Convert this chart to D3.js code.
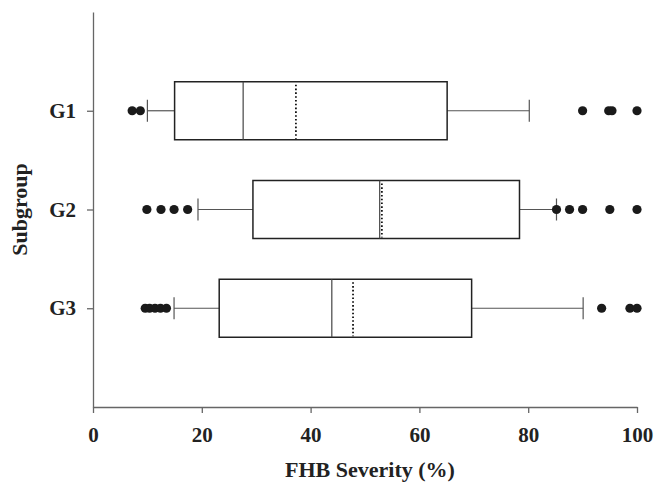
<!DOCTYPE html>
<html>
<head>
<meta charset="utf-8">
<script src="https://cdn.jsdelivr.net/npm/d3@7"></script>
<style>
  body { margin: 0; background: #fff; }
  text { font-family: "Liberation Serif", "DejaVu Serif", serif; font-weight: bold; fill: #222; }
</style>
</head>
<body>
<svg id="chart" width="667" height="484"></svg>
<script>
// data
const groups = ['G1', 'G2', 'G3']
const whiskerLow = [10.0, 19.3, 14.9]
const q1 = [15.0, 29.4, 23.2]
const median = [27.6, 52.7, 43.9]
const mean = [37.3, 53.1, 47.8]
const q3 = [65.1, 78.4, 69.6]
const whiskerHigh = [80.2, 85.2, 90.1]
const outliers = [
    [7.2, 8.7, 90.0, 94.8, 95.4, 100],
    [9.9, 12.5, 14.9, 17.4, 85.2, 87.6, 90.0, 95.0, 100],
    [9.6, 10.4, 11.4, 12.4, 13.5, 93.5, 98.7, 100]
]
const xTicks = [0, 20, 40, 60, 80, 100]

const svg = d3.select('#chart')
const plotLeft = 93, plotRight = 637, plotTop = 12, plotBottom = 407

const x = d3.scaleLinear().domain([0, 100]).range([plotLeft, plotRight])
// category positions 1..3 on a 0..4 scale
const y = d3.scaleLinear().domain([0, 4]).range([plotTop, plotBottom])
const boxH = 58

// axes
const xAxis = svg.append('g')
    .attr('transform', 'translate(0,' + plotBottom + ')')
    .call(d3.axisBottom(x).tickValues(xTicks).tickSize(6).tickPadding(14).tickSizeOuter(0))
xAxis.select('.domain').attr('stroke', '#666').attr('stroke-width', 1.3)
xAxis.selectAll('.tick line').attr('stroke', '#666').attr('stroke-width', 1.3)
xAxis.selectAll('text').style('font-size', '21px').attr('font-family', null)

const yAxis = svg.append('g')
    .attr('transform', 'translate(' + plotLeft + ',0)')
    .call(d3.axisLeft(y).tickValues([1, 2, 3]).tickFormat((d) => groups[d - 1])
        .tickSize(6).tickPadding(11).tickSizeOuter(0))
yAxis.select('.domain').attr('stroke', '#666').attr('stroke-width', 1.3)
yAxis.selectAll('.tick line').attr('stroke', '#666').attr('stroke-width', 1.3)
yAxis.selectAll('text').style('font-size', '21px').attr('font-family', null)

// boxes
const box = svg.append('g').selectAll('g')
    .data(groups)
    .enter()
    .append('g')
    .attr('transform', (d, i) => 'translate(0,' + y(i + 1) + ')')

box.append('line')
    .attr('x1', (d, i) => x(whiskerLow[i])).attr('x2', (d, i) => x(q1[i]))
    .attr('stroke', '#555').attr('stroke-width', 1.2)
box.append('line')
    .attr('x1', (d, i) => x(q3[i])).attr('x2', (d, i) => x(whiskerHigh[i]))
    .attr('stroke', '#555').attr('stroke-width', 1.2)
box.append('line')
    .attr('x1', (d, i) => x(whiskerLow[i])).attr('x2', (d, i) => x(whiskerLow[i]))
    .attr('y1', -11).attr('y2', 11)
    .attr('stroke', '#555').attr('stroke-width', 1.2)
box.append('line')
    .attr('x1', (d, i) => x(whiskerHigh[i])).attr('x2', (d, i) => x(whiskerHigh[i]))
    .attr('y1', -11).attr('y2', 11)
    .attr('stroke', '#555').attr('stroke-width', 1.2)

box.append('rect')
    .attr('x', (d, i) => x(q1[i]))
    .attr('y', -boxH / 2)
    .attr('width', (d, i) => x(q3[i]) - x(q1[i]))
    .attr('height', boxH)
    .attr('fill', 'none')
    .attr('stroke', '#222')
    .attr('stroke-width', 1.5)

box.append('line')
    .attr('x1', (d, i) => x(median[i])).attr('x2', (d, i) => x(median[i]))
    .attr('y1', -boxH / 2).attr('y2', boxH / 2)
    .attr('stroke', '#444').attr('stroke-width', 1.2)
box.append('line')
    .attr('x1', (d, i) => x(mean[i])).attr('x2', (d, i) => x(mean[i]))
    .attr('y1', -boxH / 2 + 3).attr('y2', boxH / 2 - 1)
    .attr('stroke', '#111').attr('stroke-width', 1.8)
    .attr('stroke-dasharray', '1.6,2.2')

box.selectAll('circle')
    .data((d, i) => outliers[i])
    .enter()
    .append('circle')
    .attr('cx', (v) => x(v))
    .attr('cy', 0)
    .attr('r', 4.6)
    .attr('fill', '#1a1a1a')

// axis titles
svg.append('text')
    .attr('x', 370)
    .attr('y', 477)
    .attr('text-anchor', 'middle')
    .style('font-size', '22px')
    .text('FHB Severity (%)')

svg.append('text')
    .attr('transform', 'translate(27,' + y(2) + ') rotate(-90)')
    .attr('text-anchor', 'middle')
    .style('font-size', '22px')
    .text('Subgroup')
</script>
</body>
</html>
